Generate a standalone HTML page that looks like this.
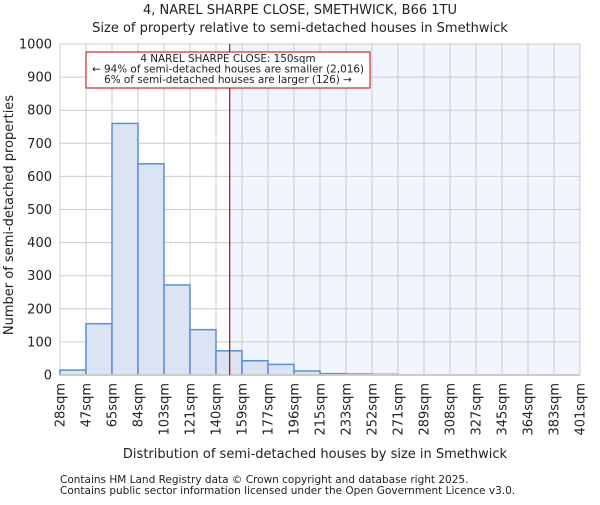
<!DOCTYPE html>
<html><head><meta charset="utf-8"><style>
body{margin:0;background:#fff;font-family:"Liberation Sans","DejaVu Sans",sans-serif}
svg text{font-family:"DejaVu Sans","Liberation Sans",sans-serif;fill:#222}
</style></head><body>
<svg id="c" width="600" height="500" xmlns="http://www.w3.org/2000/svg">
<text x="300" y="14" text-anchor="middle" font-size="13">4, NAREL SHARPE CLOSE, SMETHWICK, B66 1TU</text>
<text x="300" y="32" text-anchor="middle" font-size="13">Size of property relative to semi-detached houses in Smethwick</text>
<g id="plot"></g>
<text x="315" y="458" text-anchor="middle" font-size="13">Distribution of semi-detached houses by size in Smethwick</text>
<text transform="translate(13,215) rotate(-90)" text-anchor="middle" font-size="13">Number of semi-detached properties</text>
<text x="60" y="483" font-size="10.5">Contains HM Land Registry data © Crown copyright and database right 2025.</text>
<text x="60" y="494" font-size="10.5">Contains public sector information licensed under the Open Government Licence v3.0.</text>
</svg>
<script>
const categories=["28sqm","47sqm","65sqm","84sqm","103sqm","121sqm","140sqm","159sqm","177sqm","196sqm","215sqm","233sqm","252sqm","271sqm","289sqm","308sqm","327sqm","345sqm","364sqm","383sqm","401sqm"];
const counts=[15,155,760,638,272,137,73,43,32,12,4,3,2,0,0,0,0,0,0,0];
const yTicks=[0,100,200,300,400,500,600,700,800,900,1000];
const propertySize=150;
const binEdges=[28,47,65,84,103,121,140,159,177,196,215,233,252,271,289,308,327,345,364,383,401];
const X0=60,X1=580,Y0=375,Y1=44,NS="http://www.w3.org/2000/svg";
const bw=(X1-X0)/counts.length;
const xs=i=>X0+i*bw;
const ys=v=>Y0-(v/1000)*(Y0-Y1);
function xv(v){for(let i=0;i<binEdges.length-1;i++){if(v<=binEdges[i+1])return xs(i)+(v-binEdges[i])/(binEdges[i+1]-binEdges[i])*bw;}return X1;}
const g=document.getElementById('plot');
function mk(t,a){const e=document.createElementNS(NS,t);for(const k in a)e.setAttribute(k,a[k]);g.appendChild(e);return e;}
const lx=xv(propertySize);
let e=mk('rect',{x:lx,y:Y1,width:X1-lx,height:Y0-Y1,fill:'#f1f5fd'});


yTicks.forEach(t=>{let l=mk('line',{x1:X0,x2:X1,y1:ys(t),y2:ys(t),stroke:'#cccccc'});


let tx=mk('text',{x:X0-8,y:ys(t)+4.5,'text-anchor':'end','font-size':'13'});tx.textContent=t;

});
categories.forEach((c,i)=>{let l=mk('line',{x1:xs(i),x2:xs(i),y1:Y1,y2:Y0,stroke:'#cccccc'});


let tx=mk('text',{transform:`translate(${xs(i)+4.5},${Y0+8}) rotate(-90)`,'text-anchor':'end','font-size':'13'});tx.textContent=c;

});
counts.forEach((v,i)=>{if(v<=0)return;let r=mk('rect',{x:xs(i),y:ys(v),width:bw,height:Y0-ys(v),fill:'#dae4f4',stroke:'#5b8fd6','stroke-width':1.5});

});
let zl=mk('line',{x1:X0,x2:X1,y1:Y0,y2:Y0,stroke:'#cccccc','stroke-width':2});


let ml=mk('line',{x1:lx,x2:lx,y1:Y1,y2:Y0,stroke:'#cc0000','stroke-width':1.2});


let bx=mk('rect',{x:86,y:52,width:284,height:36,fill:'#fff',stroke:'#cc0000','stroke-width':1});


["4 NAREL SHARPE CLOSE: 150sqm","← 94% of semi-detached houses are smaller (2,016)","6% of semi-detached houses are larger (126) →"].forEach((s,i)=>{
let t=mk('text',{x:228,y:62+i*10.5,'text-anchor':'middle','font-size':'10.4'});t.textContent=s;

});
</script>
</body></html>
